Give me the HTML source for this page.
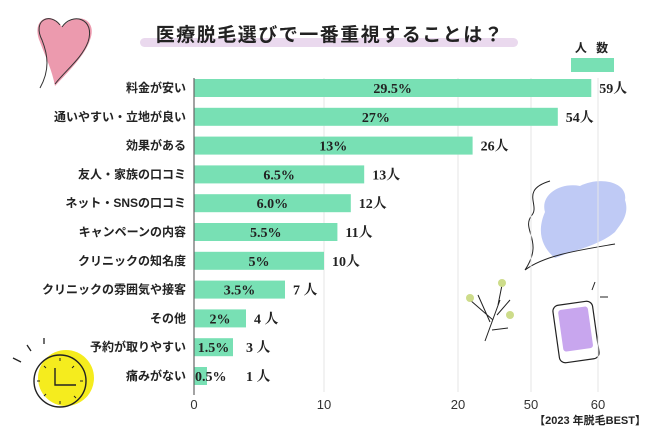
<!DOCTYPE html>
<html><head><meta charset="utf-8"><style>
body{margin:0;width:650px;height:437px;background:#fff;overflow:hidden;font-family:"Liberation Sans","Noto Sans CJK JP",sans-serif}
svg{display:block}
.lab{font-size:12px;font-weight:bold;fill:#222}
.val{font-family:"Liberation Serif","Noto Serif CJK SC",serif;font-size:14px;font-weight:bold;fill:#222}
.tick{font-size:13px;fill:#333}
</style></head><body>
<svg id="chart" width="650" height="437">
<g>
<path d="M62 27 C52 10 30 18 40 42 C46 58 52 70 55 86 C70 70 85 55 90 40 C98 20 78 10 62 27Z" fill="#ec9aae"/>
<path d="M60 25 C50 12 32 20 42 40 C48 55 50 70 40 88 M62 27 C72 12 96 18 88 42 C82 58 66 70 55 84" fill="none" stroke="#333" stroke-width="1"/>
</g>
<g>
<circle cx="66" cy="378" r="28" fill="#f5ec1e"/>
<circle cx="60" cy="381" r="26" fill="none" stroke="#222" stroke-width="1.4"/>
<path d="M55 368 V385 H76" fill="none" stroke="#222" stroke-width="1.4"/>
<path d="M60 358 v3 M60 401 v3 M37 381 h3 M80 381 h3 M44 366 l2 2 M74 396 l2 2 M74 366 l-2 2 M44 396 l2 -2" stroke="#222" stroke-width="1"/>
<path d="M13 358 l8 4 M27 345 l4 6 M44 338 l0 6" stroke="#222" stroke-width="1.3"/>
</g>
<g>
<path d="M545 212 C540 195 560 182 580 186 C600 176 628 182 625 200 C630 215 620 225 615 232 C600 245 575 250 555 258 C545 250 535 235 545 212Z" fill="#bfcaf5"/>
<path d="M550 181 C520 190 540 205 532 215 C520 230 545 240 525 270 C545 255 580 250 615 244" fill="none" stroke="#222" stroke-width="1"/>
</g>
<g>
<path d="M485 341 L500 300 M493 320 L470 300 M498 305 L502 285 M497 315 L510 300 M492 330 L508 328 M490 322 L478 295" fill="none" stroke="#222" stroke-width="1"/>
<circle cx="470" cy="298" r="4" fill="#cddc8a"/><circle cx="502" cy="283" r="4" fill="#cddc8a"/><circle cx="510" cy="315" r="4" fill="#cddc8a"/>
</g>
<g>
<rect x="556" y="303" width="40" height="58" rx="6" transform="rotate(-8 576 332)" fill="#fff" stroke="#222" stroke-width="1.2"/>
<rect x="561" y="308" width="30" height="42" rx="3" transform="rotate(-8 576 332)" fill="#c8a6ee"/>
<path d="M592 290 l3 -8 M600 297 l8 0" stroke="#222" stroke-width="1"/>
</g>
<rect x="140" y="38" width="378" height="9" rx="4.5" fill="#ead9ee"/>
<text x="330" y="41" text-anchor="middle" font-size="19" font-weight="bold" fill="#222" letter-spacing="1.5">医療脱毛選びで一番重視することは？</text>
<text x="593" y="52" text-anchor="middle" font-size="12" font-weight="bold" fill="#222" letter-spacing="3">人 数</text>
<rect x="571" y="58" width="43" height="14" fill="#78e0b4"/>
<text x="646" y="424" text-anchor="end" font-size="11" font-weight="bold" fill="#222">【2023 年脱毛BEST】</text>
<g id="grid"></g><g id="bars"></g>
<line x1="194" y1="78" x2="194" y2="395" stroke="#666" stroke-width="1.2"/>
</svg>
<script>
const categories=["料金が安い","通いやすい・立地が良い","効果がある","友人・家族の口コミ","ネット・SNSの口コミ","キャンペーンの内容","クリニックの知名度","クリニックの雰囲気や接客","その他","予約が取りやすい","痛みがない"];
const counts=[59,54,26,13,12,11,10,7,4,3,1];
const percents=["29.5%","27%","13%","6.5%","6.0%","5.5%","5%","3.5%","2%","1.5%","0.5%"];
const tickValues=[0,10,20,50,60];
const NS="http://www.w3.org/2000/svg";
const dom=[0,10,20,50,60],rng=[194,324,458,531,598];
function xs(v){for(let i=1;i<dom.length;i++){if(v<=dom[i]||i==dom.length-1){return rng[i-1]+(v-dom[i-1])/(dom[i]-dom[i-1])*(rng[i]-rng[i-1]);}}}
function ys(i){return 88+i*28.8;}
function mk(t,a,p){const e=document.createElementNS(NS,t);for(const k in a)e.setAttribute(k,a[k]);p.appendChild(e);return e;}
const grid=document.getElementById('grid'),bars=document.getElementById('bars');
tickValues.forEach(v=>{
 if(v>0){const l=mk('line',{x1:xs(v),x2:xs(v),y1:78,y2:392,stroke:'#e6e6e6','stroke-width':1},grid);
 
 }
 const t=mk('text',{x:xs(v),y:409,'text-anchor':'middle',class:'tick'},grid);t.textContent=v;
 
 
});
categories.forEach((c,i)=>{
 const y=ys(i);
 const lb=mk('text',{x:186,y:y+4,'text-anchor':'end',class:'lab'},bars);lb.textContent=c;
 
 
 const w=xs(counts[i])-194;
 const r=mk('rect',{x:194,y:y-9,width:w,height:18,fill:'#78e0b4'},bars);
 
 
 const big=w>38;
 const p=mk('text',{x:big?194+w/2:195,y:y+5,'text-anchor':big?'middle':'start',class:'val'},bars);p.textContent=percents[i];
 
 
 const n=mk('text',{x:Math.max(xs(counts[i]),194+44)+8,y:y+5,class:'val'},bars);n.textContent=counts[i]+(counts[i]<10?' 人':'人');
 
 
});
</script>
</body></html>
